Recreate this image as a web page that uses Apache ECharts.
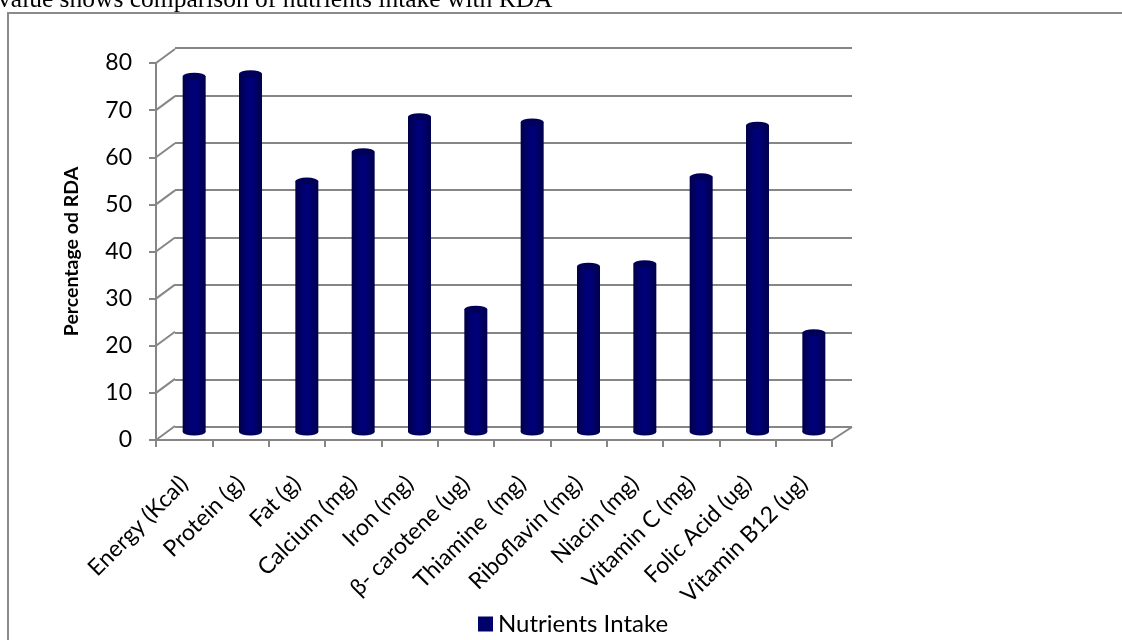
<!DOCTYPE html>
<html>
<head>
<meta charset="utf-8">
<script src="https://cdn.jsdelivr.net/npm/echarts@6/dist/echarts.min.js"></script>
<style>
  html, body { margin: 0; padding: 0; background: #fff; }
  #chart { width: 1122px; height: 640px; }
</style>
</head>
<body>
<div id="chart"></div>
<script>
// data
const categories = ['Energy (Kcal)', 'Protein (g)', 'Fat (g)', 'Calcium (mg)', 'Iron (mg)', 'β- carotene (ug)',
  'Thiamine  (mg)', 'Riboflavin (mg)', 'Niacin (mg)', 'Vitamin C (mg)', 'Folic Acid (ug)', 'Vitamin B12 (ug)'];
const intake = [75.3, 75.8, 53.1, 59.3, 66.7, 26, 65.6, 35.1, 35.6, 54, 64.9, 21];
const yTicks = [0, 10, 20, 30, 40, 50, 60, 70, 80];

const seriesName = 'Nutrients Intake';
const gridGray = '#868686';
const font = 'Lato';

const chart = echarts.init(document.getElementById('chart'), null, { renderer: 'canvas' });

// fake 3d: back wall grid, front axis grid, bars in between
const option = {
  animation: false,
  title: {
    text: 'value shows comparison of nutrients intake with RDA',
    left: -2, top: -13, padding: 0,
    textStyle: { fontFamily: 'Liberation Serif', fontSize: 25.5, fontWeight: 'normal', color: '#000' }
  },
  graphic: [{
    type: 'rect', silent: true, z: -1,
    shape: { x: 8, y: 13, width: 1130, height: 640 },
    style: { fill: 'none', stroke: '#8a8a8a', lineWidth: 2 }
  }],
  legend: {
    data: [{ name: seriesName, itemStyle: { color: '#00006a' } }],
    left: 478, top: 612, padding: 0,
    icon: 'rect', itemWidth: 15, itemHeight: 15, itemGap: 6,
    textStyle: { fontFamily: font, fontSize: 24, color: '#000' }
  },
  grid: [
    { left: 175, top: 48, width: 677, height: 379 },   // back wall
    { left: 156, top: 63, width: 676, height: 377 },   // front plane
    { left: 166, top: 54, width: 676, height: 378 }    // bars
  ],
  xAxis: [
    { type: 'category', gridIndex: 0, data: categories, show: false },
    {
      type: 'category', gridIndex: 1, data: categories,
      axisLine: { lineStyle: { color: gridGray, width: 2 } },
      axisTick: { show: true, length: 7, lineStyle: { color: gridGray, width: 2 } },
      axisLabel: { interval: 0, rotate: 45, margin: 40, fontFamily: font, fontSize: 23, color: '#000' }
    },
    { type: 'category', gridIndex: 2, data: categories, show: false }
  ],
  yAxis: [
    {
      type: 'value', gridIndex: 0, min: 0, max: 80, interval: 10,
      axisLine: { show: false }, axisTick: { show: false }, axisLabel: { show: false },
      splitLine: { lineStyle: { color: gridGray, width: 2 } }
    },
    {
      type: 'value', gridIndex: 1, min: 0, max: 80, interval: 10,
      name: 'Percentage od RDA', nameLocation: 'middle', nameGap: 74,
      nameTextStyle: { fontFamily: font, fontSize: 19.5, fontWeight: 'bold', color: '#000' },
      axisLine: { show: true, lineStyle: { color: gridGray, width: 2 } },
      axisTick: { show: true, length: 7, lineStyle: { color: gridGray, width: 2 } },
      axisLabel: { margin: 24, fontFamily: font, fontSize: 23, color: '#000' },
      splitLine: { show: false }
    },
    { type: 'value', gridIndex: 2, min: 0, max: 80, interval: 10, show: false, splitLine: { show: false } }
  ],
  series: [
    {
      // diagonal links from front ticks to back wall
      type: 'custom', xAxisIndex: 1, yAxisIndex: 1, silent: true, z: 1,
      data: yTicks.map(v => [0, v]),
      renderItem: function (params, api) {
        const cs = params.coordSys;
        const y = api.coord([0, api.value(1)])[1];
        const st = { stroke: gridGray, lineWidth: 2 };
        const kids = [{ type: 'line', shape: { x1: cs.x, y1: y, x2: cs.x + 19, y2: y - 14 }, style: st }];
        if (api.value(1) === 0) {
          kids.push({ type: 'line', shape: { x1: cs.x + cs.width, y1: y, x2: cs.x + cs.width + 20, y2: y - 13 }, style: st });
        }
        return { type: 'group', children: kids };
      }
    },
    {
      name: seriesName, type: 'bar', xAxisIndex: 2, yAxisIndex: 2, z: 3,
      barWidth: 23, data: intake,
      itemStyle: {
        color: new echarts.graphic.LinearGradient(0, 0, 1, 0, [
          { offset: 0, color: '#000046' },
          { offset: 0.35, color: '#000076' },
          { offset: 0.6, color: '#000078' },
          { offset: 1, color: '#00004a' }
        ])
      }
    },
    {
      name: 'top', type: 'pictorialBar', xAxisIndex: 2, yAxisIndex: 2, z: 4,
      symbol: 'circle', symbolSize: [23, 7], symbolPosition: 'end', symbolOffset: [0, '-50%'],
      data: intake, itemStyle: { color: '#000058' }
    },
    {
      name: 'bottom', type: 'pictorialBar', xAxisIndex: 2, yAxisIndex: 2, z: 2,
      symbol: 'circle', symbolSize: [23, 7], symbolOffset: [0, '50%'],
      data: intake, itemStyle: { color: '#00005e' }
    }
  ]
};

chart.setOption(option);
</script>
</body>
</html>
